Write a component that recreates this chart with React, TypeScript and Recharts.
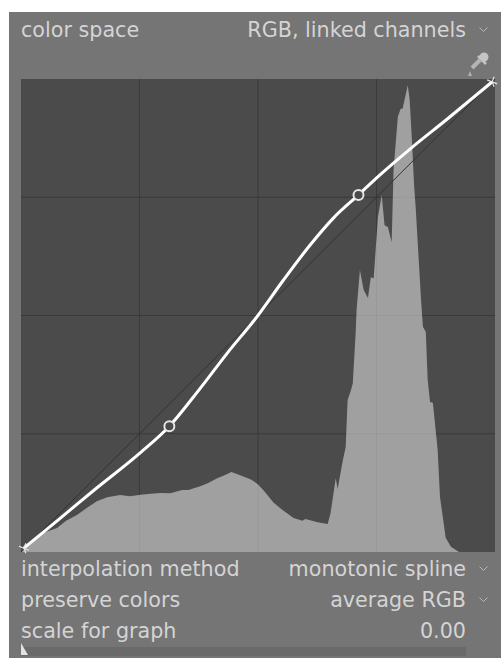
import { CartesianGrid, ComposedChart, Area, Line, Scatter, XAxis, YAxis } from "recharts";

const gridTicks = [25, 50, 75];

// histogram outline, in percent of the graph
const histInput = [0, 4.65, 7.6, 9.5, 11.8, 14, 16.1, 18.2, 20.9, 23, 25.2, 27.4, 29.4, 31.5, 34, 35.3, 37.8, 39.5, 41.4, 42.7, 44.4, 46.1, 48.4, 49.9, 51.2, 53.3, 55.4, 57.5, 59.4, 60, 62.6, 64.7, 65.3, 66.4, 66.8, 67.9, 68.5, 68.9, 69.6, 70, 70.6, 70.8, 71.5, 72.3, 73.2, 73.8, 74.4, 75.3, 76.1, 76.7, 77.4, 78.2, 78.6, 79.5, 80.1, 80.5, 81.6, 82, 82.5, 82.9, 83.3, 84.4, 84.8, 85.4, 85.8, 86.3, 86.9, 87.9, 88.4, 89.6, 90.7, 92.4];
const histCount = [0, 4, 5.1, 6.6, 7.8, 9.4, 10.8, 11.6, 12.05, 11.8, 12.1, 12.3, 12.5, 12.4, 13.1, 13.1, 13.9, 14.6, 15.6, 16.1, 16.9, 16.3, 15.4, 14.4, 13, 10.4, 8.7, 7.2, 6.6, 7, 6.3, 5.9, 8.2, 15.6, 13.3, 19.4, 22.2, 32.1, 34.2, 35.7, 46.3, 51.2, 59.6, 55.4, 53.7, 58.1, 57.9, 70.8, 75.5, 69.1, 68.7, 65.5, 80.8, 92, 93.7, 93.7, 98.7, 95.6, 86.5, 78, 72.3, 53.3, 47.6, 46.5, 36.4, 31.7, 31.5, 21.6, 11.6, 3, 1.1, 0];

// tone curve
const curveInput = [0.6, 8, 15.2, 25.2, 31.3, 37.8, 43.4, 49.9, 55.3, 61, 66, 71.2, 74.8, 82.2, 90, 99.4];
const curveOutput = [0.8, 6.9, 12.9, 21, 26.6, 34.6, 41.9, 49.9, 57.4, 64.9, 70.7, 75.5, 78.9, 85.3, 91.6, 99.4];

const diagonal = [0, 100];
const nodeInput = [31.3, 71.2];
const nodeOutput = [26.6, 75.5];
const endInput = [0.6, 99.4];
const endOutput = [0.8, 99.4];

const histData = histInput.map((x, i) => ({ x, y: histCount[i] }));
const curveData = curveInput.map((x, i) => ({ x, y: curveOutput[i] }));
const diagonalData = diagonal.map((v) => ({ x: v, y: v }));
const nodeData = nodeInput.map((x, i) => ({ x, y: nodeOutput[i] }));
const endData = endInput.map((x, i) => ({ x, y: endOutput[i] }));

const TEXT = "#d4d4d4";

const Label = ({ top, left, right, children }: { top: number; left?: number; right?: number; children: string }) => (
  <div style={{ position: "absolute", top, left, right, color: TEXT, fontFamily: "DejaVu Sans", fontSize: 20.7, lineHeight: "24px", whiteSpace: "nowrap" }}>
    {children}
  </div>
);

const Chevron = ({ top }: { top: number }) => (
  <svg style={{ position: "absolute", left: 478, top }} width={12} height={8}>
    <path d="M1.5 1.5 L5.5 5.5 L9.5 1.5" fill="none" stroke="#b8b8b8" strokeWidth={1} />
  </svg>
);

const NodeDot = (props: any) => (
  <circle cx={props.cx} cy={props.cy} r={5} fill="#4b4b4b" stroke="#e6e6e6" strokeWidth={2} />
);

const EndDot = (props: any) => {
  const { cx, cy } = props;
  return <path d={`M${cx - 5} ${cy - 2} L${cx} ${cy} L${cx + 2} ${cy + 5} M${cx + 2} ${cy - 5} L${cx} ${cy} L${cx + 5} ${cy + 2}`} fill="none" stroke="#e6e6e6" strokeWidth={1.2} />;
};

export default function App() {
  return (
    <div style={{ position: "absolute", left: 0, top: 0, width: 501, height: 658, background: "#fff", overflow: "hidden" }}>
      <div style={{ position: "absolute", left: 9, top: 12, width: 492, height: 646, background: "#757575" }} />

      <div style={{ position: "absolute", left: 0, top: 0 }}>
        <ComposedChart width={501} height={658} data={histData} margin={{ left: 21, right: 6, top: 79, bottom: 106 }}>
          <XAxis type="number" dataKey="x" domain={[0, 100]} hide />
          <YAxis type="number" domain={[0, 100]} hide />
          <CartesianGrid fill="#4b4b4b" stroke="#3a3a3a" verticalValues={gridTicks} horizontalValues={gridTicks} />
          <Line data={diagonalData} dataKey="y" stroke="#333333" strokeWidth={1} dot={false} isAnimationActive={false} />
          <Area dataKey="y" type="linear" fill="#d8d8d8" fillOpacity={0.6} stroke="none" isAnimationActive={false} />
          <Line data={curveData} dataKey="y" type="monotone" stroke="#ffffff" strokeWidth={3} dot={false} isAnimationActive={false} />
          <Scatter data={nodeData} dataKey="y" shape={NodeDot} isAnimationActive={false} />
          <Scatter data={endData} dataKey="y" shape={EndDot} isAnimationActive={false} />
        </ComposedChart>
      </div>

      <Label top={18} left={21}>color space</Label>
      <Label top={18} right={35}>RGB, linked channels</Label>
      <Chevron top={26} />

      <svg style={{ position: "absolute", left: 465, top: 50 }} width={30} height={28}>
        <path d="M7 18 L15 10" fill="none" stroke="#b4b4b4" strokeWidth={4} />
        <path d="M13 6 L21 14" fill="none" stroke="#c4c4c4" strokeWidth={2.5} />
        <circle cx={19} cy={7} r={4.5} fill="#c4c4c4" />
        <path d="M3 26 L5 21 L7 26 Z" fill="#b0b0b0" />
      </svg>

      <Label top={557} left={21}>interpolation method</Label>
      <Label top={557} right={35}>monotonic spline</Label>
      <Chevron top={565} />
      <Label top={588} left={21}>preserve colors</Label>
      <Label top={588} right={35}>average RGB</Label>
      <Chevron top={596} />
      <Label top={619} left={21}>scale for graph</Label>
      <Label top={619} right={35}>0.00</Label>

      <div style={{ position: "absolute", left: 21, top: 647, width: 445, height: 9, background: "#6a6a6a" }} />
      <svg style={{ position: "absolute", left: 21, top: 643 }} width={8} height={13}>
        <path d="M0 0 L7 12 L0 12 Z" fill="#e2e2e2" />
      </svg>
    </div>
  );
}
